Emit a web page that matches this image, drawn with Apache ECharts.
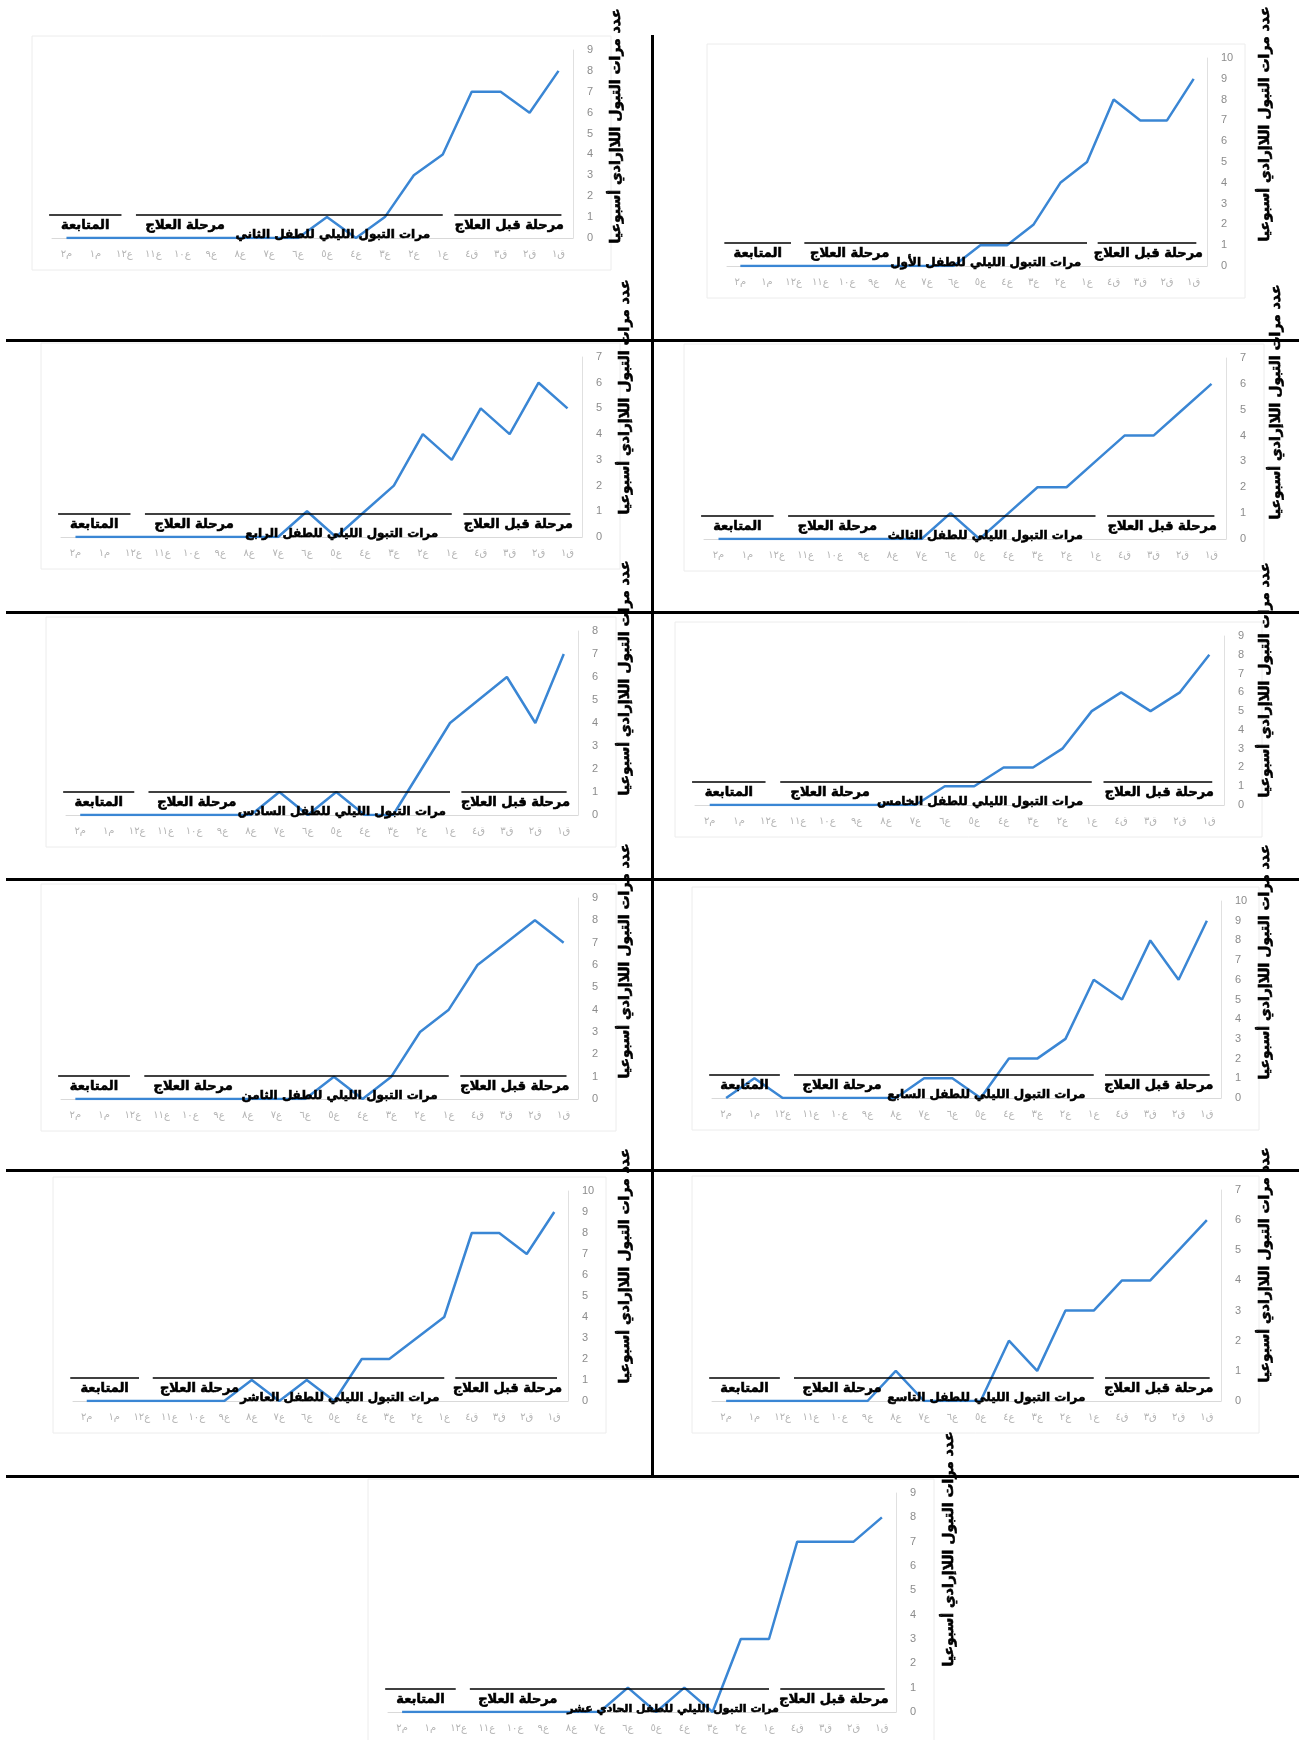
<!DOCTYPE html>
<html><head><meta charset="utf-8">
<script src="https://cdn.jsdelivr.net/npm/echarts@6/dist/echarts.min.js"></script>
<style>html,body{margin:0;padding:0;background:#fff}#c{width:1299px;height:1740px}</style>
</head><body><div id="c"></div>
<script>
// ---- data ----
const categories = ['ق١','ق٢','ق٣','ق٤','ع١','ع٢','ع٣','ع٤','ع٥','ع٦','ع٧','ع٨','ع٩','ع١٠','ع١١','ع١٢','م١','م٢'];
const child1  = [9,7,7,8,5,4,2,1,1,0,0,0,0,0,0,0,0,0];
const child2  = [8,6,7,7,4,3,1,0,1,0,0,0,0,0,0,0,0,0];
const child3  = [6,5,4,4,3,2,2,1,0,1,0,0,0,0,0,0,0,0];
const child4  = [5,6,4,5,3,4,2,1,0,1,0,0,0,0,0,0,0,0];
const child5  = [8,6,5,6,5,3,2,2,1,1,0,0,0,0,0,0,0,0];
const child6  = [7,4,6,5,4,2,0,0,1,0,1,0,0,0,0,0,0,0];
const child7  = [9,6,8,5,6,3,2,2,0,1,1,0,0,0,0,0,1,0];
const child8  = [7,8,7,6,4,3,1,0,1,0,0,0,0,0,0,0,0,0];
const child9  = [6,5,4,4,3,3,1,2,0,0,0,1,0,0,0,0,0,0];
const child10 = [9,7,8,8,4,3,2,2,0,1,0,1,0,0,0,0,0,0];
const child11 = [8,7,7,7,3,3,0,1,0,1,0,0,0,0,0,0,0,0];
const yMaxes = [10,9,7,7,9,8,10,9,7,10,9];
const chartTitles = [
  'مرات التبول الليلي للطفل الأول','مرات التبول الليلي للطفل الثاني','مرات التبول الليلي للطفل الثالث',
  'مرات التبول الليلي للطفل الرابع','مرات التبول الليلي للطفل الخامس','مرات التبول الليلي للطفل السادس',
  'مرات التبول الليلي للطفل السابع','مرات التبول الليلي للطفل الثامن','مرات التبول الليلي للطفل التاسع',
  'مرات التبول الليلي للطفل العاشر','مرات التبول الليلي للطفل الحادي عشر'];
const yAxisTitle = 'عدد مرات التبول اللاإرادي أسبوعيا';
const phaseLabels = ['مرحلة قبل العلاج','مرحلة العلاج','المتابعة'];
const allSeries = [child1,child2,child3,child4,child5,child6,child7,child8,child9,child10,child11];

// ---- layout (pixels) ----
const panels = [
  {l:727,r:1207,t:58,b:266,  tx:1265,ty:124},
  {l:52, r:573, t:50,b:238,  tx:616, ty:126},
  {l:704,r:1226,t:358,b:539, tx:1276,ty:402},
  {l:61, r:582, t:357,b:537, tx:625, ty:397},
  {l:695,r:1224,t:636,b:805, tx:1265,ty:680},
  {l:66, r:578, t:631,b:815, tx:625, ty:678},
  {l:712,r:1221,t:901,b:1098,tx:1265,ty:962},
  {l:61, r:578, t:898,b:1099,tx:625, ty:961},
  {l:712,r:1221,t:1190,b:1401,tx:1265,ty:1265},
  {l:73, r:568, t:1191,b:1401,tx:625, ty:1266},
  {l:388,r:896, t:1493,b:1712,tx:949, ty:1549}
];
const titleCenter = [7.8,7.8,7.8,7.8,7.8,7.8,7.8,7.8,7.8,7.8,7.4];
const titleSize   = [12,12,12,12,12,12,12,12,12,12,11];
const AR = '"DejaVu Sans", sans-serif';
const blue = '#3A86D4';

const grids=[], xAxes=[], yAxes=[], series=[];
panels.forEach((p,i)=>{
  grids.push({left:p.l, top:p.t, width:p.r-p.l, height:p.b-p.t});
  xAxes.push({type:'category', gridIndex:i, data:categories, inverse:true, boundaryGap:true,
    axisLine:{show:true, lineStyle:{color:'#d9d9d9', width:1}}, axisTick:{show:false},
    axisLabel:{color:'#b5b5b5', fontSize:10, margin:11, interval:0, fontFamily:AR}});
  yAxes.push({type:'value', gridIndex:i, min:0, max:yMaxes[i], interval:1, position:'right',
    axisLine:{show:true, lineStyle:{color:'#e0e0e0'}}, axisTick:{show:false}, splitLine:{show:false},
    axisLabel:{color:'#8c8c8c', fontSize:11, margin:14, fontFamily:'"Liberation Sans", Arial'}});
  series.push({type:'line', xAxisIndex:i, yAxisIndex:i, data:allSeries[i], showSymbol:false,
    lineStyle:{color:blue, width:2.5}, itemStyle:{color:blue}, animation:false, z:2});
});

const chart = echarts.init(document.getElementById('c'), null, {renderer:'canvas'});
chart.setOption({backgroundColor:'#fff', animation:false, grid:grids, xAxis:xAxes, yAxis:yAxes, series:series});

// ---- annotations ----
const g = [];
panels.forEach(p=>{
  g.push({type:'rect', shape:{x:p.l-20, y:p.t-14, width:(p.r-p.l)+58, height:(p.b-p.t)+46},
    style:{fill:'none', stroke:'#ececec', lineWidth:1}, z:0});
});
const boldText = (t, size) => ({text:t, fill:'#000', stroke:'#000', lineWidth:0.6,
  font:'bold '+size+'px '+AR, textAlign:'center', textVerticalAlign:'middle'});
panels.forEach((p,i)=>{
  const x0 = chart.convertToPixel({xAxisIndex:i}, categories[0]);
  const x1 = chart.convertToPixel({xAxisIndex:i}, categories[1]);
  const step = x1 - x0;
  const xAt = k => x0 + k*step;
  const zy = chart.convertToPixel({yAxisIndex:i}, 0);
  const ly = zy - 23;
  const spans = [[-0.1,3.6],[4.0,14.6],[15.1,17.6]];
  spans.forEach(s=>{
    g.push({type:'line', shape:{x1:xAt(s[0]), y1:ly, x2:xAt(s[1]), y2:ly},
      style:{stroke:'#000', lineWidth:1.6}, z:10});
  });
  const lc = [1.7, 12.9, 16.35];
  phaseLabels.forEach((t,k)=>{
    g.push({type:'text', x:xAt(lc[k]), y:ly+11, z:11, style:boldText(t,13)});
  });
  g.push({type:'text', x:xAt(titleCenter[i]), y:zy-3, z:11, style:boldText(chartTitles[i],titleSize[i])});
  g.push({type:'text', x:p.tx, y:p.ty, rotation:Math.PI/2, z:12, style:boldText(yAxisTitle,14)});
});
const D = [
  {x:651, y:35, w:3, h:1442},
  {x:6, y:339, w:1293, h:3},
  {x:6, y:611, w:1293, h:3},
  {x:6, y:878, w:1293, h:3},
  {x:6, y:1169, w:1293, h:3},
  {x:6, y:1475, w:1293, h:3}
];
D.forEach(d=>g.push({type:'rect', shape:{x:d.x,y:d.y,width:d.w,height:d.h}, style:{fill:'#000'}, z:20}));
chart.setOption({graphic:g});
</script></body></html>
